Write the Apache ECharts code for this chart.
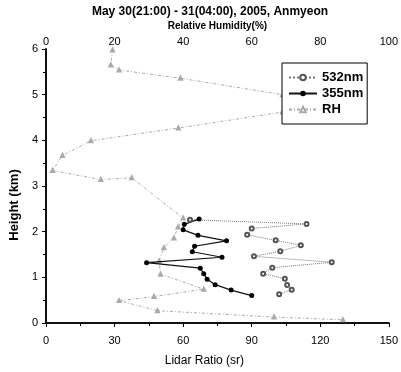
<!DOCTYPE html>
<html>
<head>
<meta charset="utf-8">
<script src="https://cdn.jsdelivr.net/npm/echarts@6/dist/echarts.min.js"></script>
<style>
  html, body { margin: 0; padding: 0; background: #fff; }
  #chart { width: 401px; height: 372px; }
</style>
</head>
<body>
<div id="chart"></div>
<script>
// lidar ratio profiles (height in km, ratio in sr)
const heights355 = [2.28, 2.16, 2.04, 1.92, 1.80, 1.68, 1.56, 1.44, 1.32, 1.20, 1.08, 0.96, 0.84, 0.72, 0.60];
const ratio355 = [67, 60.5, 60, 66.5, 79, 65, 64, 77, 44, 67.5, 69, 70.5, 74, 81, 90];

const heights532 = [2.26, 2.17, 2.07, 1.93, 1.81, 1.70, 1.57, 1.46, 1.33, 1.21, 1.08, 0.97, 0.83, 0.73, 0.63];
const ratio532 = [63, 114, 90, 88, 100.5, 111.5, 102.5, 91, 125, 99, 95, 104.5, 105.5, 107.5, 102];

// relative humidity profile (top axis, %)
const rhHeights = [5.98, 5.65, 5.54, 5.36, 5.00, 4.80, 4.62, 4.27, 3.99, 3.67, 3.34, 3.14, 3.18,
  2.30, 2.10, 1.86, 1.65, 1.36, 1.07, 0.74, 0.58, 0.49, 0.27, 0.13, 0.07];
const rhValues = [19.4, 18.9, 21.3, 39.2, 69, 86, 69, 38.6, 13.1, 4.8, 1.9, 16, 25,
  40, 38.5, 37.3, 34.4, 33, 33.4, 46, 31.5, 21.3, 32.5, 66.5, 86.6];

const pairs = (xs, ys) => xs.map((x, i) => [x, ys[i]]);

const chart = echarts.init(document.getElementById('chart'));
const font = 'Liberation Sans, Arial, sans-serif';

const baseAxis = {
  axisLine: { show: true, lineStyle: { color: '#000', width: 1.5 } },
  axisTick: { show: true, length: 4, lineStyle: { color: '#000' } },
  minorTick: { show: true, splitNumber: 2, length: 3, lineStyle: { color: '#000' } },
  splitLine: { show: false },
  axisLabel: { color: '#000', fontFamily: font, fontSize: 11 }
};

chart.setOption({
  animation: false,
  backgroundColor: '#fff',
  title: {
    text: 'May 30(21:00) - 31(04:00), 2005, Anmyeon',
    left: 205, top: 1, textAlign: 'center',
    textStyle: { fontFamily: font, fontSize: 12, fontWeight: 'bold', color: '#000' }
  },
  legend: {
    orient: 'vertical',
    left: 282, top: 63,
    width: 80,
    padding: [8, 4, 8, 6],
    itemGap: 3,
    itemWidth: 28, itemHeight: 7,
    backgroundColor: '#fff',
    borderColor: '#000', borderWidth: 1,
    textStyle: { fontFamily: font, fontSize: 13, fontWeight: 'bold', color: '#000' },
    data: ['532nm', '355nm', 'RH']
  },
  grid: { left: 45, right: 12, top: 49, bottom: 46 },
  xAxis: [
    Object.assign({}, baseAxis, {
      type: 'value', position: 'bottom', min: 0, max: 150, interval: 30,
      name: 'Lidar Ratio (sr)', nameLocation: 'middle', nameGap: 32,
      nameTextStyle: { fontFamily: font, fontSize: 12, color: '#000', padding: [0, 26, 0, 0] },
      axisLabel: Object.assign({}, baseAxis.axisLabel, { margin: 12 })
    }),
    Object.assign({}, baseAxis, {
      type: 'value', position: 'top', min: 0, max: 100, interval: 20,
      name: 'Relative Humidity(%)', nameLocation: 'middle', nameGap: 14,
      nameTextStyle: { fontFamily: font, fontSize: 10, fontWeight: 'bold', color: '#000' },
      axisTick: { show: true, inside: true, length: 4, lineStyle: { color: '#000' } },
      minorTick: { show: true, splitNumber: 2, length: 3, lineStyle: { color: '#000' } },
      axisLabel: Object.assign({}, baseAxis.axisLabel, { margin: 2 })
    })
  ],
  yAxis: [
    Object.assign({}, baseAxis, {
      type: 'value', position: 'left', min: 0, max: 6, interval: 1,
      name: 'Height (km)', nameLocation: 'middle', nameGap: 23,
      nameTextStyle: { fontFamily: font, fontSize: 13, fontWeight: 'bold', color: '#000', padding: [0, 38, 0, 0] },
      axisLabel: Object.assign({}, baseAxis.axisLabel, { margin: 8 })
    }),
    Object.assign({}, baseAxis, {
      type: 'value', position: 'right', min: 0, max: 6, interval: 1,
      axisTick: { show: true, inside: true, length: 4, lineStyle: { color: '#000' } },
      minorTick: { show: true, splitNumber: 2, length: 3, lineStyle: { color: '#000' } },
      axisLabel: { show: false }
    })
  ],
  series: [
    {
      name: '532nm', type: 'line', xAxisIndex: 0, yAxisIndex: 0,
      data: pairs(ratio532, heights532),
      symbol: 'emptyCircle', symbolSize: 4,
      lineStyle: { color: '#777', width: 1, type: 'dotted' },
      itemStyle: { color: '#555', borderColor: '#555', borderWidth: 1 }
    },
    {
      name: '355nm', type: 'line', xAxisIndex: 0, yAxisIndex: 0,
      data: pairs(ratio355, heights355),
      symbol: 'circle', symbolSize: 5,
      lineStyle: { color: '#111', width: 1.2 },
      itemStyle: { color: '#000' }
    },
    {
      name: 'RH', type: 'line', xAxisIndex: 1, yAxisIndex: 0,
      data: pairs(rhValues, rhHeights),
      symbol: 'emptyTriangle', symbolSize: 3,
      lineStyle: { color: '#aaa', width: 1, type: [3, 2, 1, 2] },
      itemStyle: { color: '#aaa', borderColor: '#aaa', borderWidth: 0.8 },
      z: 1
    }
  ]
});
</script>
</body>
</html>
